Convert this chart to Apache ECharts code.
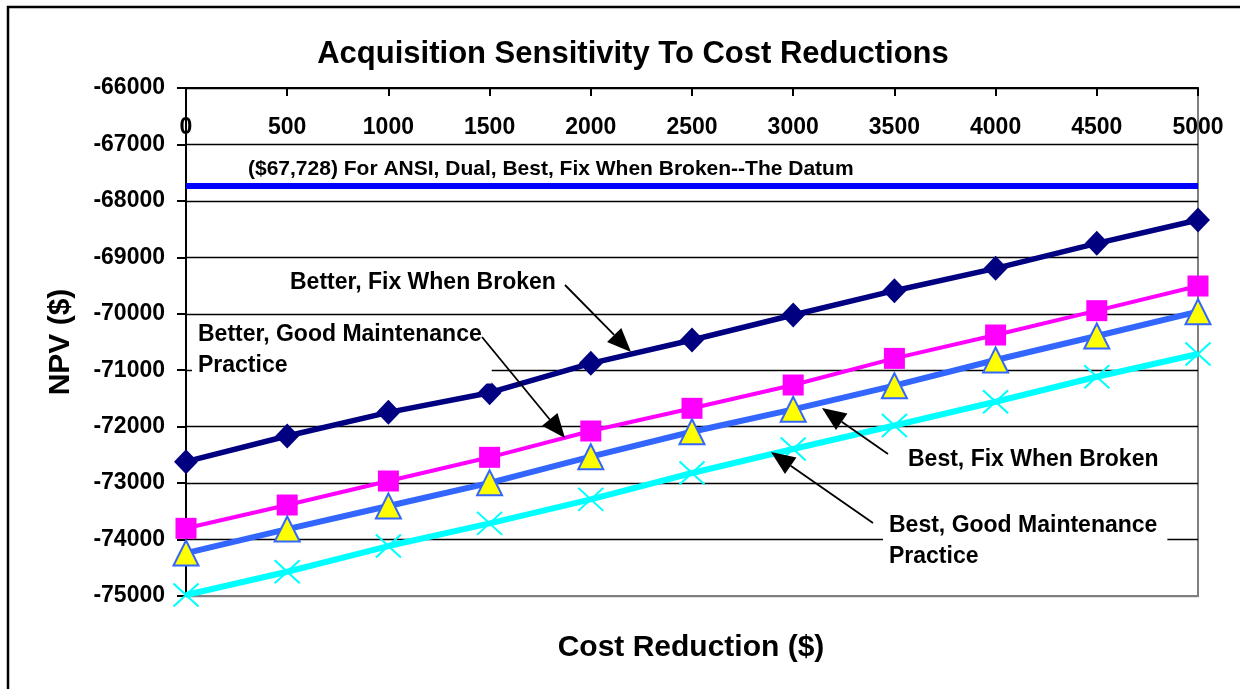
<!DOCTYPE html>
<html>
<head>
<meta charset="utf-8">
<script src="https://cdn.jsdelivr.net/npm/echarts@6/dist/echarts.min.js"></script>
<style>
    html, body { margin: 0; padding: 0; background: #fff; }
    #main { width: 1240px; height: 689px; }
</style>
</head>
<body>
<div id="main"></div>
<script>
/*数据*/
var costCuts = ['0', '500', '1000', '1500', '2000', '2500', '3000', '3500', '4000', '4500', '5000'];
var betterFixWhenBroken = [-72620, -72166, -71746, -71398, -70878, -70465, -70022, -69591, -69195, -68752, -68339];
var betterGoodMaint = [-73801, -73388, -72963, -72543, -72077, -71675, -71262, -70790, -70376, -69945, -69508];
var bestFixWhenBroken = [-74239, -73814, -73406, -72995, -72532, -72090, -71693, -71274, -70819, -70394, -69963];
var bestGoodMaint = [-74983, -74570, -74115, -73713, -73288, -72821, -72396, -71980, -71558, -71115, -70713];
var datumNpv = -67728;
var npvMin = -75000;
var npvMax = -66000;
var npvStep = 1000;

var fontName = 'Liberation Sans, Arial, sans-serif';

//箭头
function makeArrow(x1, y1, x2, y2) {
    var dx = x2 - x1, dy = y2 - y1;
    var len = Math.sqrt(dx * dx + dy * dy);
    var ux = dx / len, uy = dy / len;
    var hl = 24, hw = 10;
    var bx = x2 - ux * hl, by = y2 - uy * hl;
    return [
        {
            type: 'line', z: 50,
            shape: { x1: x1, y1: y1, x2: bx, y2: by },
            style: { stroke: '#000', lineWidth: 1.8 }
        },
        {
            type: 'polygon', z: 50,
            shape: { points: [[x2, y2], [bx - uy * hw, by + ux * hw], [bx + uy * hw, by - ux * hw]] },
            style: { fill: '#000' }
        }
    ];
}

function noteText(x, y, text) {
    return {
        type: 'text', z: 40,
        x: x, y: y,
        style: {
            text: text,
            font: 'bold 23px ' + fontName,
            fill: '#000',
            align: 'left',
            verticalAlign: 'middle',
            lineHeight: 31,
            backgroundColor: '#fff',
            padding: [2, 10, 2, 6]
        }
    };
}

// 网格线颜色：最下面一条是灰色
var splitColors = [];
for (var i = 0; i <= (npvMax - npvMin) / npvStep; i++) {
    splitColors.push(i === 0 ? '#808080' : '#000');
}

var graphics = [
    {
        type: 'rect', z: 60,
        shape: { x: 8, y: 7, width: 1260, height: 720 },
        style: { fill: 'none', stroke: '#000', lineWidth: 2.5 }
    },
    {
        type: 'text', z: 40,
        x: 691, y: 648,
        style: {
            text: 'Cost Reduction ($)',
            font: 'bold 30px ' + fontName,
            fill: '#000', align: 'center', verticalAlign: 'middle'
        }
    },
    {
        type: 'text', z: 40,
        x: 248, y: 169,
        style: {
            text: '($67,728) For ANSI, Dual, Best, Fix When Broken--The Datum',
            font: 'bold 21px ' + fontName,
            fill: '#000', align: 'left', verticalAlign: 'middle'
        }
    },
    noteText(284, 283, 'Better, Fix When Broken'),
    noteText(192, 350.5, 'Better, Good Maintenance\nPractice'),
    noteText(902, 460, 'Best, Fix When Broken'),
    noteText(883, 541, 'Best, Good Maintenance\nPractice')
];
graphics = graphics
    .concat(makeArrow(565, 285, 631, 352))
    .concat(makeArrow(482, 337, 565, 438))
    .concat(makeArrow(888, 454, 822, 408))
    .concat(makeArrow(873, 523, 771, 452));

var option = {
    backgroundColor: '#fff',
    animation: false,
    title: {
        text: 'Acquisition Sensitivity To Cost Reductions',
        left: 628,
        top: 34,
        textAlign: 'center',
        textStyle: {
            fontFamily: fontName,
            fontWeight: 'bold',
            fontSize: 31,
            color: '#000'
        }
    },
    grid: {
        left: 186,
        top: 88,
        right: 42,
        bottom: 93,
        show: true,
        borderColor: '#808080',
        borderWidth: 2,
        containLabel: false
    },
    xAxis: {
        type: 'category',
        position: 'top',
        boundaryGap: false,
        data: costCuts,
        axisLine: { lineStyle: { color: '#000', width: 2 } },
        axisTick: { inside: true, length: 8, lineStyle: { color: '#000', width: 2 } },
        axisLabel: {
            inside: true,
            interval: 0,
            margin: 28,
            color: '#000',
            fontFamily: fontName,
            fontWeight: 'bold',
            fontSize: 23
        },
        splitLine: { show: false }
    },
    yAxis: {
        type: 'value',
        min: npvMin,
        max: npvMax,
        interval: npvStep,
        name: 'NPV ($)',
        nameLocation: 'middle',
        nameRotate: 90,
        nameGap: 110,
        nameTextStyle: {
            fontFamily: fontName,
            fontWeight: 'bold',
            fontSize: 30,
            color: '#000'
        },
        axisLine: { show: true, lineStyle: { color: '#000', width: 2 } },
        axisTick: { show: true, length: 9, lineStyle: { color: '#000', width: 2 } },
        axisLabel: {
            margin: 21,
            color: '#000',
            fontFamily: fontName,
            fontWeight: 'bold',
            fontSize: 23,
            formatter: function (v) { return String(v); }
        },
        splitLine: { show: true, lineStyle: { color: splitColors, width: 1.3 } }
    },
    series: [
        {
            name: 'Better, Fix When Broken',
            type: 'line',
            data: betterFixWhenBroken,
            symbol: 'diamond',
            symbolSize: [24, 25],
            lineStyle: { color: '#000080', width: 5.5 },
            itemStyle: { color: '#000080' },
            markLine: {
                silent: true,
                symbol: ['none', 'none'],
                label: { show: false },
                lineStyle: { color: '#0000FF', width: 6, type: 'solid' },
                data: [{ yAxis: datumNpv }]
            }
        },
        {
            name: 'Better, Good Maintenance Practice',
            type: 'line',
            data: betterGoodMaint,
            symbol: 'rect',
            symbolSize: 21,
            lineStyle: { color: '#FF00FF', width: 4 },
            itemStyle: { color: '#FF00FF' }
        },
        {
            name: 'Best, Fix When Broken',
            type: 'line',
            data: bestFixWhenBroken,
            symbol: 'triangle',
            symbolSize: [25, 25],
            lineStyle: { color: '#3366FF', width: 6 },
            itemStyle: { color: '#FFFF00', borderColor: '#3366FF', borderWidth: 2 }
        },
        {
            name: 'Best, Good Maintenance Practice',
            type: 'line',
            data: bestGoodMaint,
            symbol: 'path://M0,0L24,24M24,0L0,24',
            symbolSize: [25, 23],
            lineStyle: { color: '#00FFFF', width: 6 },
            itemStyle: { color: 'rgba(0,0,0,0)', borderColor: '#00FFFF', borderWidth: 2 }
        }
    ],
    graphic: graphics
};

var chart = echarts.init(document.getElementById('main'));
chart.setOption(option);
</script>
</body>
</html>
